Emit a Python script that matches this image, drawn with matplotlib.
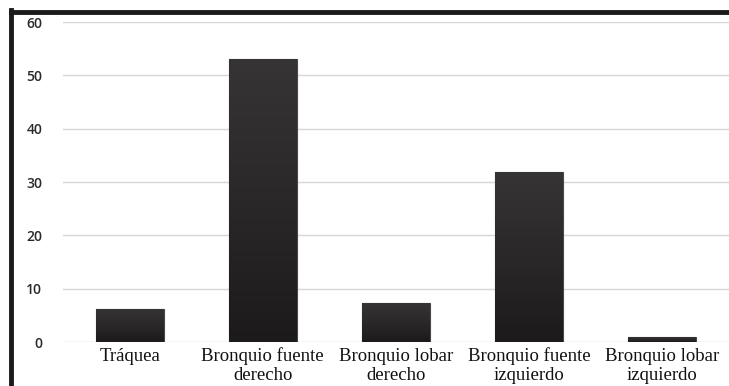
import matplotlib
matplotlib.use("Agg")
import numpy as np
import matplotlib.pyplot as plt
from matplotlib.lines import Line2D
from matplotlib.colors import LinearSegmentedColormap

categories = ["Tráquea", "Bronquio fuente\nderecho", "Bronquio lobar\nderecho",
              "Bronquio fuente\nizquierdo", "Bronquio lobar\nizquierdo"]
values = [6.2, 53.1, 7.3, 31.9, 0.9]
yticks = [0, 10, 20, 30, 40, 50, 60]

fig = plt.figure(figsize=(7.29, 3.86), dpi=100)
ax = fig.add_axes([63/729, 1-342/386, 1-63/729, (342-22)/386])

x = list(range(len(categories)))
bars = ax.bar(x, values, width=0.51, color="#2a2828", edgecolor="#4a4848", linewidth=0.8, zorder=3)

cmap = LinearSegmentedColormap.from_list("barg", ["#1c1a1a", "#2a2828", "#363434"])
grad = np.linspace(0, 1, 256).reshape(-1, 1)
for b in bars:
    x0, y0 = b.get_x(), b.get_y()
    w, h = b.get_width(), b.get_height()
    im = ax.imshow(grad, cmap=cmap, origin="lower", aspect="auto",
                   extent=(x0, x0 + w, y0, y0 + h), zorder=4, interpolation="bilinear")
    im.set_clip_path(b)

ax.set_xlim(-0.5, 4.5)
ax.set_ylim(0, 60)
ax.set_yticks(yticks)
ax.set_yticklabels([str(t) for t in yticks], fontsize=10, family="Open Sans",
                   fontweight="semibold", color="#2a2a2a")
ax.set_xticks(x)
ax.set_xticklabels(categories, fontsize=13.5, family="Liberation Serif", color="#111111",
                   linespacing=1.15)
ax.tick_params(axis="both", length=0)
ax.tick_params(axis="y", pad=15)
ax.tick_params(axis="x", pad=4)
ax.grid(axis="y", color="#d6d6d6", linewidth=1.0, zorder=0)
ax.set_axisbelow(True)
for s in ax.spines.values():
    s.set_visible(False)

# outer frame (left and top)
fig.add_artist(Line2D([10.5/729, 10.5/729], [0, 1-10/386], transform=fig.transFigure,
                      color="#1a1a1a", linewidth=3.5, solid_capstyle="projecting"))
fig.add_artist(Line2D([10.5/729, 1], [1-12/386, 1-12/386], transform=fig.transFigure,
                      color="#1a1a1a", linewidth=3.5, solid_capstyle="projecting"))

fig.savefig("out.png", dpi=100)
